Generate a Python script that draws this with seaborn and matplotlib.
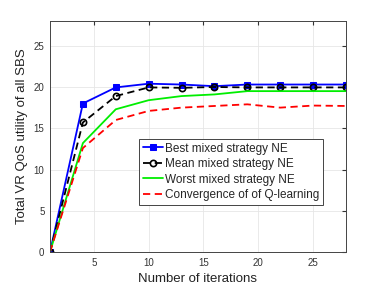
import matplotlib
matplotlib.use('Agg')
import matplotlib.pyplot as plt
import pandas as pd
import seaborn as sns

# Data
iterations = [1, 4, 7, 10, 13, 16, 19, 22, 25, 28]
best_ne = [0, 18.0, 19.95, 20.4, 20.3, 20.1, 20.3, 20.3, 20.3, 20.3]
mean_ne = [0, 15.7, 18.9, 19.95, 19.9, 20.0, 19.95, 19.95, 19.95, 19.95]
worst_ne = [0, 13.2, 17.3, 18.4, 18.9, 19.1, 19.5, 19.5, 19.5, 19.5]
q_learning = [0, 12.6, 16.0, 17.1, 17.5, 17.7, 17.9, 17.5, 17.75, 17.7]

labels = ['Best mixed strategy NE', 'Mean mixed strategy NE',
          'Worst mixed strategy NE', 'Convergence of of Q-learning']

df = pd.DataFrame({'it': iterations, labels[0]: best_ne, labels[1]: mean_ne,
                   labels[2]: worst_ne, labels[3]: q_learning})

sns.set_style('whitegrid')
plt.rcParams['font.family'] = ['Liberation Sans', 'DejaVu Sans']

fig = plt.figure(figsize=(3.82, 2.86), dpi=100)
ax = fig.add_axes([50 / 382, 1 - 252 / 286, 296 / 382, 231 / 286])

sns.lineplot(data=df, x='it', y=labels[0], ax=ax, color='#0000ff', lw=1.3,
             marker='s', markersize=4.5, markeredgecolor='#0000ff', label=labels[0])
sns.lineplot(data=df, x='it', y=labels[1], ax=ax, color='black', lw=1.3,
             linestyle=(0, (4, 2.5)), marker='o', markersize=4.5, markerfacecolor='none',
             markeredgecolor='black', markeredgewidth=1.2, label=labels[1])
sns.lineplot(data=df, x='it', y=labels[2], ax=ax, color='#00ee00', lw=1.3,
             label=labels[2])
sns.lineplot(data=df, x='it', y=labels[3], ax=ax, color='#ff0000', lw=1.3,
             linestyle=(0, (4, 2.5)), label=labels[3])

ax.set_xlim(1, 28)
ax.set_ylim(0, 28)
ax.set_xticks([5, 10, 15, 20, 25])
ax.set_yticks([0, 5, 10, 15, 20, 25])
ax.tick_params(labelsize=7, colors='#333333', direction='in', length=3,
               top=True, right=True, pad=4)
ax.grid(True, color='#e6e6e6', lw=0.6)
for s in ax.spines.values():
    s.set_color('#444444')
    s.set_linewidth(0.7)
ax.set_xlabel('Number of iterations', fontsize=9.5, color='#222222')
ax.set_ylabel('Total VR QoS utility of all SBS', fontsize=9.5, color='#222222')

leg = ax.legend(loc='upper left', bbox_to_anchor=(89 / 296, 113 / 231), fontsize=8.5,
                frameon=True, fancybox=False, framealpha=1, edgecolor='#444444',
                borderpad=0.3, labelspacing=0.3, handlelength=1.7,
                handletextpad=0.2, borderaxespad=0)
leg.get_frame().set_linewidth(0.7)

fig.savefig('out.png', dpi=100)
